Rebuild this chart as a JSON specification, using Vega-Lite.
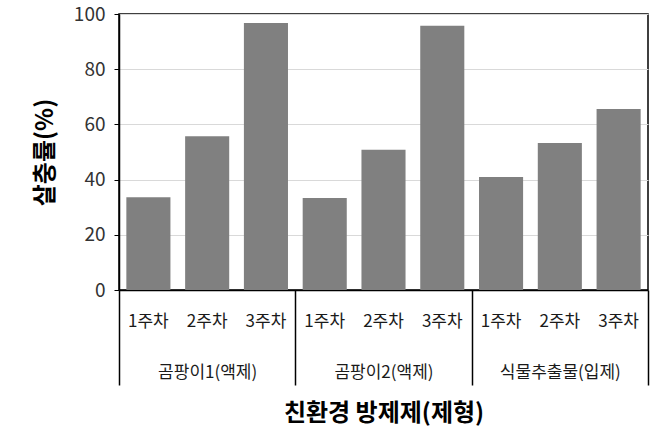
{
  "$schema": "https://vega.github.io/schema/vega-lite/v6.json",
  "width": 529,
  "height": 276,
  "autosize": {"type": "none"},
  "padding": {"left": 119, "top": 14, "right": 2, "bottom": 139},
  "config": {
    "font": "Noto Sans CJK KR",
    "view": {"stroke": "#000000", "strokeWidth": 1.5}
  },
  "data": {
    "values": [
      {"group": "곰팡이1(액제)", "week": "1주차", "bar": "곰팡이1(액제)|1주차", "rate": 33.6},
      {"group": "곰팡이1(액제)", "week": "2주차", "bar": "곰팡이1(액제)|2주차", "rate": 55.7},
      {"group": "곰팡이1(액제)", "week": "3주차", "bar": "곰팡이1(액제)|3주차", "rate": 96.7},
      {"group": "곰팡이2(액제)", "week": "1주차", "bar": "곰팡이2(액제)|1주차", "rate": 33.3},
      {"group": "곰팡이2(액제)", "week": "2주차", "bar": "곰팡이2(액제)|2주차", "rate": 50.8},
      {"group": "곰팡이2(액제)", "week": "3주차", "bar": "곰팡이2(액제)|3주차", "rate": 95.7},
      {"group": "식물추출물(입제)", "week": "1주차", "bar": "식물추출물(입제)|1주차", "rate": 40.9},
      {"group": "식물추출물(입제)", "week": "2주차", "bar": "식물추출물(입제)|2주차", "rate": 53.3},
      {"group": "식물추출물(입제)", "week": "3주차", "bar": "식물추출물(입제)|3주차", "rate": 65.6}
    ]
  },
  "layer": [
    {
      "mark": {"type": "bar", "color": "#808080"},
      "encoding": {
        "x": {
          "field": "bar",
          "type": "nominal",
          "sort": null,
          "scale": {"paddingInner": 0.25, "paddingOuter": 0.125},
          "axis": {
            "orient": "bottom",
            "title": null,
            "labelAngle": 0,
            "labelExpr": "split(datum.value, '|')[1]",
            "labelFontSize": 17,
            "labelColor": "#1a1a1a",
            "labelPadding": 23,
            "ticks": false,
            "domainColor": "#000000",
            "domainWidth": 1.5
          }
        },
        "y": {
          "field": "rate",
          "type": "quantitative",
          "scale": {"domain": [0, 100]},
          "axis": {
            "title": "살충률(%)",
            "titleFontSize": 24,
            "titleFontWeight": "bold",
            "titleColor": "#000000",
            "titlePadding": 16,
            "values": [0, 20, 40, 60, 80, 100],
            "labelFontSize": 19,
            "labelColor": "#333333",
            "labelPadding": 9,
            "tickSize": 5,
            "tickColor": "#000000",
            "domainColor": "#000000",
            "domainWidth": 1.5,
            "gridColor": "#d9d9d9",
            "gridWidth": 1
          }
        }
      }
    },
    {
      "mark": {"type": "bar", "opacity": 0},
      "encoding": {
        "x": {
          "field": "group",
          "type": "nominal",
          "sort": null,
          "scale": {"paddingInner": 0, "paddingOuter": 0},
          "axis": {
            "orient": "bottom",
            "title": "친환경 방제제(제형)",
            "titleFontSize": 24,
            "titleFontWeight": "bold",
            "titleColor": "#000000",
            "titlePadding": 16,
            "labelAngle": 0,
            "labelFontSize": 17,
            "labelColor": "#1a1a1a",
            "labelPadding": -21,
            "domain": false,
            "ticks": true,
            "tickBand": "extent",
            "tickSize": 95,
            "tickColor": "#000000",
            "tickWidth": 1.5
          }
        }
      }
    }
  ],
  "resolve": {"scale": {"x": "independent"}, "axis": {"x": "independent"}}
}
